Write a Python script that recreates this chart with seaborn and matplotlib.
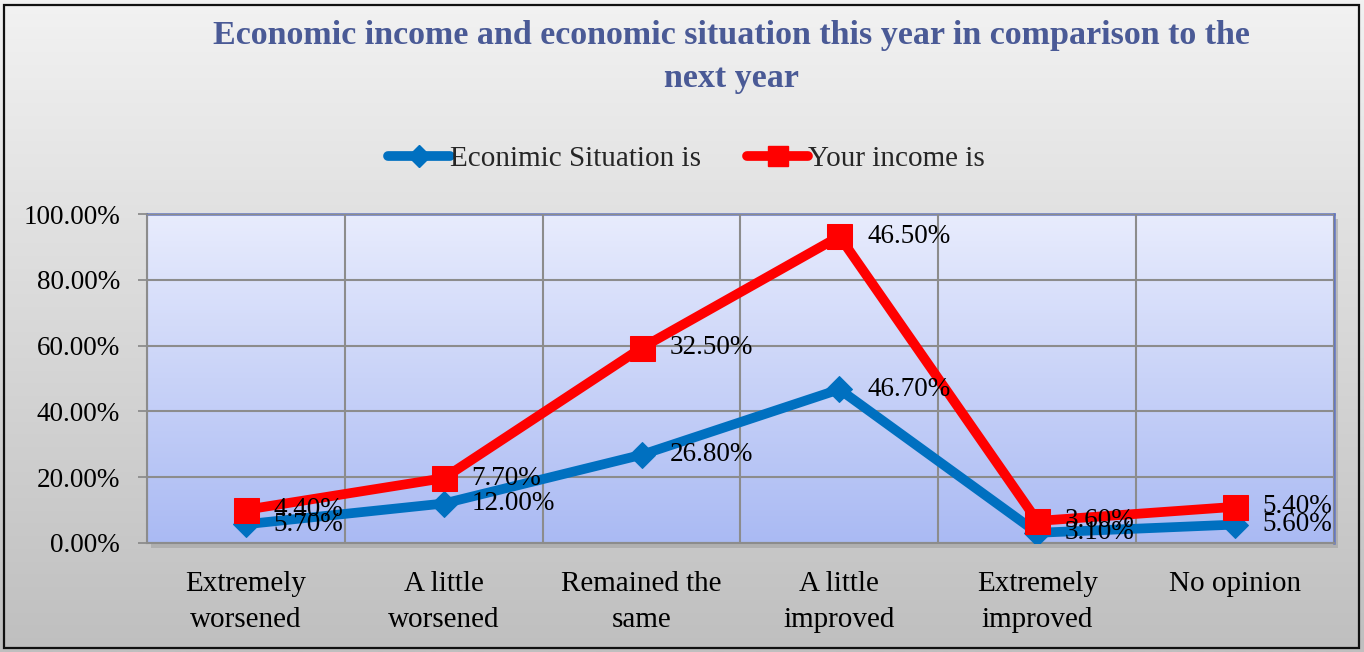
import numpy as np
import pandas as pd
import matplotlib
matplotlib.use("Agg")
import matplotlib.pyplot as plt
import seaborn as sns
from matplotlib.ticker import PercentFormatter, FixedLocator
from matplotlib.patches import Rectangle
from matplotlib.lines import Line2D
from matplotlib.colors import LinearSegmentedColormap

categories = ["Extremely\nworsened", "A little\nworsened", "Remained the\nsame",
              "A little\nimproved", "Extremely\nimproved", "No opinion"]
economic_situation = [5.7, 12.0, 26.8, 46.7, 3.1, 5.6]
your_income = [4.4, 7.7, 32.5, 46.5, 3.6, 5.4]
series_names = ["Econimic Situation is", "Your income is"]
title = "Economic income and economic situation this year in comparison to the\nnext year"

sns.set_theme(style="white")
plt.rcParams['font.family'] = ['Liberation Serif', 'DejaVu Serif']

W, H, DPI = 1364, 652, 100
fig = plt.figure(figsize=(W / DPI, H / DPI), dpi=DPI)

# figure background gradient
bg = fig.add_axes([0, 0, 1, 1], zorder=-10)
grad = np.linspace(0, 1, 256).reshape(-1, 1)
cm_bg = LinearSegmentedColormap.from_list("bg", ["#F2F2F2", "#BFBFBF"])
bg.imshow(grad, aspect="auto", cmap=cm_bg, extent=[0, 1, 0, 1], origin="upper")
bg.set_axis_off()
fig.patches.append(Rectangle((4 / W, 4 / H), 1 - 9 / W, 1 - 9 / H, transform=fig.transFigure,
                             fill=False, edgecolor="#111111", linewidth=1.6, zorder=20))

l, r, b, t = 147 / W, 1334 / W, 1 - 543 / H, 1 - 214 / H
# shadow
fig.patches.append(Rectangle((l + 4 / W, b - 5 / H), r - l, t - b, transform=fig.transFigure,
                             facecolor="#9a9a9a", edgecolor="none", alpha=0.5, zorder=-5))
ax = fig.add_axes([l, b, r - l, t - b])

df = pd.DataFrame({"x": np.arange(len(categories)),
                   "econ": economic_situation,
                   "income": your_income})
df["econ_f"] = df["econ"] / 100
df["stack_f"] = (df["econ"] + df["income"]) / 100

cm_pl = LinearSegmentedColormap.from_list("pl", ["#E8ECFD", "#AABAF3"])
ax.imshow(grad, aspect="auto", cmap=cm_pl, extent=[-0.5, 5.5, 0, 1], origin="upper", zorder=0)

blue, red = "#0070C0", "#FF0000"
sns.lineplot(data=df, x="x", y="econ_f", ax=ax, color=blue, linewidth=7, marker="D",
             markersize=13, markeredgecolor=blue, zorder=5, legend=False)
sns.lineplot(data=df, x="x", y="stack_f", ax=ax, color=red, linewidth=7, marker="s",
             markersize=18, markeredgecolor=red, zorder=6, legend=False)

NUM_FS = 19.5
WORD_FS = 21
for i, row in df.iterrows():
    ax.annotate(f"{row['econ']:.2f}%", (row["x"], row["econ_f"]), xytext=(20, 0),
                textcoords="offset points", ha="left", va="center", fontsize=NUM_FS,
                color="black", zorder=10)
    ax.annotate(f"{row['income']:.2f}%", (row["x"], row["stack_f"]), xytext=(20, 0),
                textcoords="offset points", ha="left", va="center", fontsize=NUM_FS,
                color="black", zorder=10)

ax.set_xlim(-0.5, 5.5)
ax.set_ylim(0, 1)
ax.set_xticks(df["x"])
ax.set_xticklabels(categories, fontsize=WORD_FS, linespacing=1.5)
ax.xaxis.set_minor_locator(FixedLocator(np.arange(-0.5, 6, 1)))
ax.set_yticks(np.arange(0, 1.01, 0.2))
ax.yaxis.set_major_formatter(PercentFormatter(1.0, decimals=2))
ax.tick_params(axis="y", labelsize=NUM_FS, length=6.5, width=1.3, color="#8c8c8c", pad=13, left=True)
ax.tick_params(axis="x", which="both", length=0, pad=20)
ax.set_axisbelow(False)
ax.grid(True, axis="y", which="major", color="#8c8c8c", linewidth=1.5)
ax.grid(True, axis="x", which="minor", color="#8c8c8c", linewidth=1.5)
ax.grid(False, axis="x", which="major")
ax.set_xlabel("")
ax.set_ylabel("")
for s in ["top", "right"]:
    ax.spines[s].set_color("#6577BE")
    ax.spines[s].set_linewidth(1.8)
for s in ["left", "bottom"]:
    ax.spines[s].set_color("#8c8c8c")
    ax.spines[s].set_linewidth(1.5)
for tl in ax.get_xticklabels() + ax.get_yticklabels():
    tl.set_color("black")

fig.text(0.536, 1 - 57 / H, title, ha="center", va="center", fontsize=24.5,
         fontweight="bold", color="#4A5A96", linespacing=1.5)

handles = [Line2D([], [], color=blue, linewidth=7, marker="D", markersize=11),
           Line2D([], [], color=red, linewidth=7, marker="s", markersize=15)]
fig.legend(handles, series_names, loc="center", bbox_to_anchor=(0.5035, 1 - 159 / H),
           ncol=2, frameon=False, fontsize=WORD_FS, handlelength=2.1, handletextpad=0.0,
           columnspacing=1.6)

fig.savefig("out.png", dpi=DPI)
